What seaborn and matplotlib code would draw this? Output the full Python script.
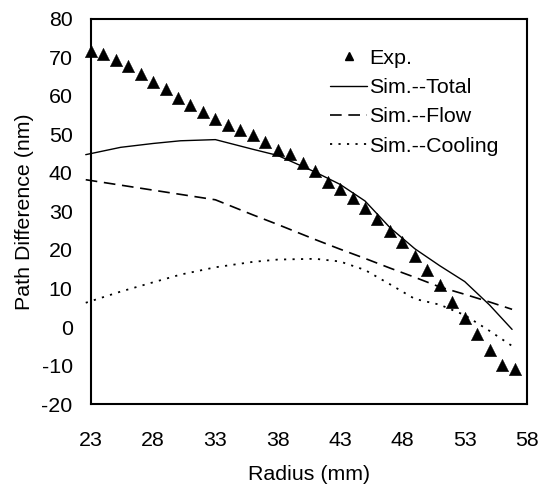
import matplotlib
matplotlib.use("Agg")
import matplotlib.pyplot as plt
import seaborn as sns
import numpy as np
import pandas as pd

# Experimental data
exp_radius = [23, 24, 25, 26, 27, 28, 29, 30, 31, 32, 33, 34, 35, 36, 37, 38, 39, 40,
              41, 42, 43, 44, 45, 46, 47, 48, 49, 50, 51, 52, 53, 54, 55, 56, 57]
exp_values = [71.5, 70.7, 69.3, 67.6, 65.5, 63.5, 61.7, 59.3, 57.5, 55.7, 54.0, 52.4,
              51.0, 49.7, 48.0, 46.0, 44.8, 42.6, 40.5, 37.7, 35.8, 33.4, 31.0, 27.9,
              25.0, 22.1, 18.3, 14.9, 11.0, 6.6, 2.4, -1.9, -6.0, -9.9, -10.8]

# Simulation data
sim_radius = [22.6, 25.4, 28, 30.2, 33, 36, 38, 41, 43, 45, 47, 49, 51, 53, 55, 56.8]
sim_total = [44.7, 46.6, 47.6, 48.3, 48.6, 46.1, 44.5, 40.2, 37.0, 32.7, 25.8, 20.3,
             15.9, 11.8, 5.7, -0.6]
sim_flow = [38.2, 36.8, 35.5, 34.4, 33.0, 29.1, 26.6, 22.7, 20.2, 17.8, 15.3, 12.9,
            10.4, 8.5, 6.5, 4.6]
sim_cooling = [6.3, 9.2, 11.6, 13.6, 15.5, 16.9, 17.5, 17.7, 17.0, 14.8, 11.1, 7.3,
               5.8, 3.1, -1.0, -4.9]

x_ticks = [23, 28, 33, 38, 43, 48, 53, 58]
y_ticks = [-20, -10, 0, 10, 20, 30, 40, 50, 60, 70, 80]

sns.set_style("white")
plt.rcParams["font.family"] = ["Liberation Sans", "DejaVu Sans"]
plt.rcParams["text.color"] = "black"
plt.rcParams["axes.labelcolor"] = "black"
plt.rcParams["xtick.color"] = "black"
plt.rcParams["ytick.color"] = "black"
FS = 15.4

fig = plt.figure(figsize=(5.4, 4.87), dpi=100)
ax = fig.add_axes([0.168, 0.170, 0.808, 0.792])

exp_df = pd.DataFrame({"r": exp_radius, "v": exp_values})
sim_df = pd.DataFrame({"r": sim_radius, "total": sim_total,
                       "flow": sim_flow, "cooling": sim_cooling})

sns.scatterplot(data=exp_df, x="r", y="v", ax=ax, marker="^", s=80, color="black",
                edgecolor="black", linewidth=0.3, clip_on=False, zorder=3, legend=False)
sns.lineplot(data=sim_df, x="r", y="total", ax=ax, color="black", linewidth=1.0,
             sort=False, estimator=None, clip_on=False)
sns.lineplot(data=sim_df, x="r", y="flow", ax=ax, color="black", linewidth=1.2,
             sort=False, estimator=None, clip_on=False, linestyle=(0, (7, 4)))
sns.lineplot(data=sim_df, x="r", y="cooling", ax=ax, color="black", linewidth=1.3,
             sort=False, estimator=None, clip_on=False, linestyle=(0, (1.2, 3.5)))

handles = [
    plt.Line2D([], [], marker="^", linestyle="none", color="black", markersize=6),
    plt.Line2D([], [], color="black", linewidth=1.0),
    plt.Line2D([], [], color="black", linewidth=1.2, linestyle=(0, (7, 4))),
    plt.Line2D([], [], color="black", linewidth=1.3, linestyle=(0, (1.2, 3.5))),
]
labels = ["Exp.", "Sim.--Total", "Sim.--Flow", "Sim.--Cooling"]
ax.legend(handles, labels, loc="upper right", bbox_to_anchor=(0.975, 0.966),
          frameon=False, fontsize=FS, handlelength=1.75, handletextpad=0.1,
          labelspacing=0.48, borderpad=0.3)

ax.set_xlim(23, 58)
ax.set_ylim(-20, 80)
ax.set_xticks(x_ticks)
ax.set_yticks(y_ticks)
ax.set_xticklabels([str(t) for t in x_ticks], fontsize=FS)
ax.set_yticklabels([str(t) for t in y_ticks], fontsize=FS)
ax.tick_params(axis="both", direction="in", length=5, width=1, color="black")
ax.tick_params(axis="x", pad=19)
ax.tick_params(axis="y", pad=13)
ax.set_xlabel("Radius (mm)", fontsize=FS, labelpad=11)
ax.set_ylabel("Path Difference (nm)", fontsize=FS, labelpad=5)

for sp in ax.spines.values():
    sp.set_visible(True)
    sp.set_color("black")
    sp.set_linewidth(1.5)

fig.savefig("out.png", dpi=100)
